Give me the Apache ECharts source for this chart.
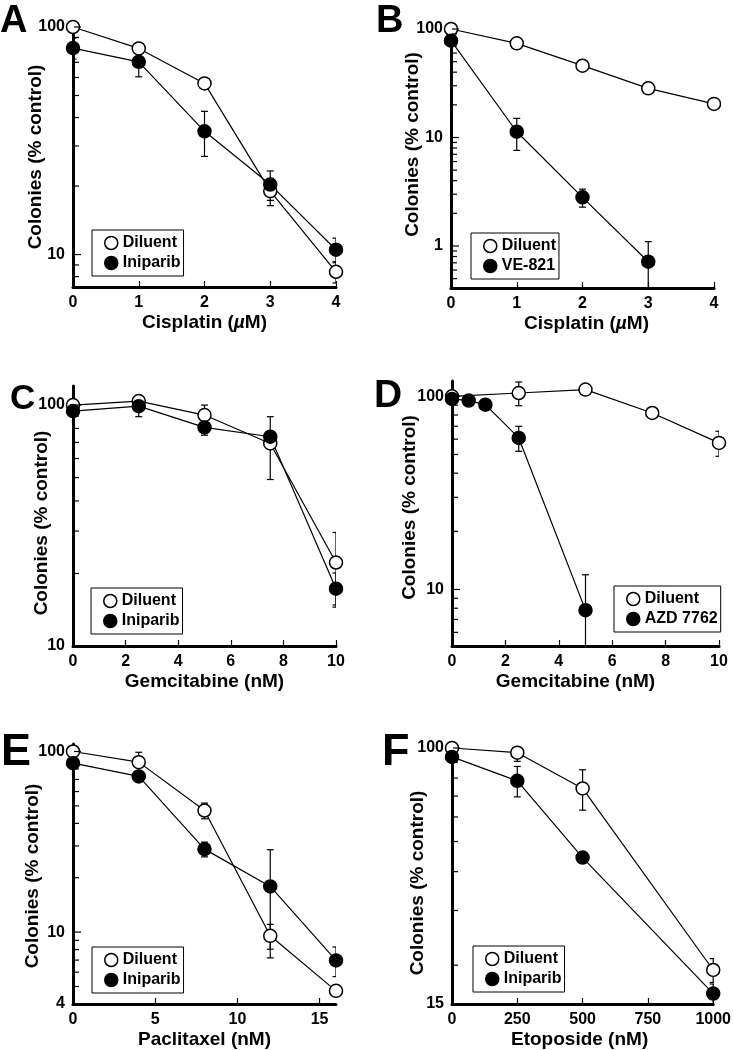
<!DOCTYPE html>
<html><head><meta charset="utf-8">
<script src="https://cdn.jsdelivr.net/npm/echarts@6/dist/echarts.min.js"></script>
<style>html,body{margin:0;padding:0;background:#fff}#c{width:734px;height:1050px}</style>
</head><body><div id="c"></div>
<script>
// ---------- Panel A : Cisplatin ± Iniparib ----------
const aX = [0, 1, 2, 3, 4];
const aDiluent = [100, 80.5, 56.5, 19.0, 8.4];
const aDiluentSD = [0, 0, 0, 2.6, 0.9];
const aIniparib = [80.8, 70.3, 34.8, 20.3, 10.5];
const aIniparibSD = [8.5, 9.9, 7.8, 3.0, 1.3];
const aYLabels = [10, 100];
const aYMinor = [8, 9, 20, 30, 40, 50, 60, 70, 80, 90];

// ---------- Panel B : Cisplatin ± VE-821 ----------
const bX = [0, 1, 2, 3, 4];
const bDiluent = [100, 73.8, 45.9, 28.4, 20.4];
const bDiluentSD = [0, 0, 0, 0, 0];
const bVEX = [0, 1, 2, 3];
const bVE821 = [78, 11.3, 2.81, 0.716];
const bVE821SD = [0, 3.7, 0.53, 0.38];
const bYLabels = [1, 10, 100];
const bYMinor = [0.5, 0.6, 0.7, 0.8, 0.9, 2, 3, 4, 5, 6, 7, 8, 9, 20, 30, 40, 50, 60, 70, 80, 90];

// ---------- Panel C : Gemcitabine ± Iniparib ----------
const cX = [0, 2.5, 5, 7.5, 10];
const cDiluent = [100, 103.9, 90.9, 69.3, 22.2];
const cDiluentSD = [0, 0, 9.1, 20.2, 7.4];
const cIniparib = [94.4, 99, 80.8, 73.9, 17.3];
const cIniparibSD = [0, 9.5, 5.8, 0, 2.8];
const cYLabels = [10, 100];
const cYMinor = [20, 30, 40, 50, 60, 70, 80, 90];

// ---------- Panel D : Gemcitabine ± AZD 7762 ----------
const dX = [0, 2.5, 5, 7.5, 10];
const dDiluent = [100, 104, 108.3, 82, 57.4];
const dDiluentSD = [0, 14.6, 5, 0, 8.5];
const dAZDX = [0, 0.625, 1.25, 2.5, 5];
const dAZD = [96.9, 95, 90.5, 60.9, 7.82];
const dAZDSD = [0, 0, 0, 9, 4.1];
const dYLabels = [10, 100];
const dYMinor = [6, 7, 8, 9, 20, 30, 40, 50, 60, 70, 80, 90];

// ---------- Panel E : Paclitaxel ± Iniparib ----------
const eX = [0, 4, 8, 12, 16];
const eDiluent = [100, 87.3, 47.1, 9.54, 4.73];
const eDiluentSD = [0, 11.7, 4.7, 1.5, 0];
const eIniparib = [86.2, 72.8, 28.8, 17.9, 6.97];
const eIniparibSD = [0, 0, 2.7, 10.7, 1.3];
const eXLabels = [0, 5, 10, 15];
const eYLabels = [4, 10, 100];
const eYMinor = [5, 6, 7, 8, 9, 20, 30, 40, 50, 60, 70, 80, 90];

// ---------- Panel F : Etoposide ± Iniparib ----------
const fX = [0, 250, 500, 1000];
const fDiluent = [100, 96.6, 74.1, 19.3];
const fDiluentSD = [0, 6, 11, 1.7];
const fIniparib = [93.6, 78.4, 44.4, 16.2];
const fIniparibSD = [0, 8.8, 1.6, 1.2];
const fYLabels = [15, 100];
const fYMinor = [20, 30, 40, 50, 60, 70, 80, 90];

const FONT = "'Liberation Sans', Arial, Helvetica, sans-serif";
const Y_NAME = 'Colonies (% control)';

const panels = [
  {letter:'A', lx:0, ly:23.5, lsize:38,
   grid:{left:73, top:27, width:263, height:260},
   x:{min:0, max:4, interval:1}, y:{min:7.2, max:100}, yLabels:aYLabels, yMinor:aYMinor,
   xName:'Cisplatin ({i|µ}M)', yGap:28, yShift:0, xShift:0,
   legend:{left:92, top:230},
   series:[{name:'Diluent', x:aX, y:aDiluent, sd:aDiluentSD, open:true},
           {name:'Iniparib', x:aX, y:aIniparib, sd:aIniparibSD, open:false}]},
  {letter:'B', lx:376, ly:23.5, lsize:38,
   grid:{left:451, top:29, width:263, height:259},
   x:{min:0, max:4, interval:1}, y:{min:0.41, max:100}, yLabels:bYLabels, yMinor:bYMinor,
   xName:'Cisplatin ({i|µ}M)', yGap:29, yShift:14, xShift:4,
   legend:{left:471, top:233},
   series:[{name:'Diluent', x:bX, y:bDiluent, sd:bDiluentSD, open:true},
           {name:'VE-821', x:bVEX, y:bVE821, sd:bVE821SD, open:false}]},
  {letter:'C', lx:10, ly:401, lsize:35,
   grid:{left:73, top:386, width:263, height:260},
   x:{min:0, max:10, interval:2}, y:{min:10, max:120}, yLabels:cYLabels, yMinor:cYMinor,
   xName:'Gemcitabine (nM)', yGap:22, yShift:-7, xShift:0,
   legend:{left:91, top:588},
   series:[{name:'Diluent', x:cX, y:cDiluent, sd:cDiluentSD, open:true},
           {name:'Iniparib', x:cX, y:cIniparib, sd:cIniparibSD, open:false}]},
  {letter:'D', lx:374, ly:398, lsize:39,
   grid:{left:452, top:381, width:267, height:265},
   x:{min:0, max:10, interval:2}, y:{min:5.1, max:120}, yLabels:dYLabels, yMinor:dYMinor,
   xName:'Gemcitabine (nM)', yGap:33, yShift:6, xShift:-10,
   legend:{left:614, top:586},
   series:[{name:'Diluent', x:dX, y:dDiluent, sd:dDiluentSD, open:true},
           {name:'AZD 7762', x:dAZDX, y:dAZD, sd:dAZDSD, open:false}]},
  {letter:'E', lx:1, ly:755, lsize:45,
   grid:{left:73, top:744, width:263, height:261},
   x:{min:0, max:16, interval:5, labels:eXLabels}, y:{min:4, max:110}, yLabels:eYLabels, yMinor:eYMinor,
   xName:'Paclitaxel (nM)', yGap:31, yShift:-2, xShift:0,
   legend:{left:92, top:947},
   series:[{name:'Diluent', x:eX, y:eDiluent, sd:eDiluentSD, open:true},
           {name:'Iniparib', x:eX, y:eIniparib, sd:eIniparibSD, open:false}]},
  {letter:'F', lx:382, ly:755, lsize:45,
   grid:{left:452, top:748, width:262, height:257},
   x:{min:0, max:1000, interval:250}, y:{min:15, max:100}, yLabels:fYLabels, yMinor:fYMinor,
   xName:'Etoposide (nM)', yGap:25, yShift:-7, xShift:-3,
   legend:{left:473, top:946},
   series:[{name:'Diluent', x:fX, y:fDiluent, sd:fDiluentSD, open:true},
           {name:'Iniparib', x:fX, y:fIniparib, sd:fIniparibSD, open:false}]}
];

function renderErr(params, api) {
  const x = api.value(0), lo = api.value(1), hi = api.value(2);
  const p1 = api.coord([x, lo]);
  const p2 = api.coord([x, hi]);
  const w = 3.5;
  const st = {stroke:'#000', lineWidth:1.2};
  return {type:'group', children:[
    {type:'line', shape:{x1:p1[0], y1:p1[1], x2:p2[0], y2:p2[1]}, style:st},
    {type:'line', shape:{x1:p1[0]-w, y1:p1[1], x2:p1[0]+w, y2:p1[1]}, style:st},
    {type:'line', shape:{x1:p2[0]-w, y1:p2[1], x2:p2[0]+w, y2:p2[1]}, style:st}
  ]};
}

// y-axis tick marks (inside), drawn from the tick value arrays via the axis scale
function makeTickRenderer(len) {
  return function (params, api) {
    const p = api.coord([api.value(0), api.value(1)]);
    return {type:'line', shape:{x1:p[0] + 1, y1:p[1], x2:p[0] + 1 + len, y2:p[1]},
            style:{stroke:'#000', lineWidth:1.2}};
  };
}

function shiftPad(s) {
  return s >= 0 ? [0, 0, 0, 2 * s] : [0, -2 * s, 0, 0];
}

const option = {
  backgroundColor:'#fff', animation:false,
  textStyle:{fontFamily:FONT},
  grid:[], xAxis:[], yAxis:[], series:[], legend:[], graphic:[]
};

panels.forEach((p, i) => {
  option.grid.push(p.grid);
  const xa = {
    type:'value', gridIndex:i, min:p.x.min, max:p.x.max, interval:p.x.interval,
    splitLine:{show:false},
    axisLine:{show:true, lineStyle:{color:'#000', width:3}},
    axisTick:{show:true, inside:true, length:6, lineStyle:{color:'#000', width:1.2}},
    axisLabel:{color:'#000', fontSize:16, fontWeight:'bold', fontFamily:FONT, margin:8,
      formatter:v => String(v)},
    name:p.xName, nameLocation:'middle', nameGap:26, nameMoveOverlap:false,
    nameTextStyle:{color:'#000', fontSize:19, fontWeight:'bold', fontFamily:FONT, verticalAlign:'top',
      padding:shiftPad(p.xShift),
      rich:{i:{fontStyle:'italic', fontSize:19, fontWeight:'bold', fontFamily:FONT, color:'#000'}}}
  };
  if (p.x.labels) {
    xa.axisLabel.customValues = p.x.labels;
    xa.axisTick.customValues = p.x.labels;
  }
  option.xAxis.push(xa);
  option.yAxis.push({
    type:'log', logBase:10, gridIndex:i, min:p.y.min, max:p.y.max, position:'left',
    splitLine:{show:false},
    axisLine:{show:true, lineStyle:{color:'#000', width:3}},
    axisTick:{show:false},
    axisLabel:{color:'#000', fontSize:16, fontWeight:'bold', fontFamily:FONT, margin:8, customValues:p.yLabels,
      formatter:v => String(v)},
    name:Y_NAME, nameLocation:'middle', nameGap:p.yGap, nameMoveOverlap:false,
    nameTextStyle:{color:'#000', fontSize:19, fontWeight:'bold', fontFamily:FONT, padding:shiftPad(p.yShift)}
  });
  // y tick marks: major and minor
  option.series.push({
    type:'custom', name:'major ticks ' + p.letter, xAxisIndex:i, yAxisIndex:i, clip:false, z:5, silent:true,
    renderItem:makeTickRenderer(7), data:p.yLabels.map(v => [p.x.min, v]), encode:{x:0, y:1}
  });
  option.series.push({
    type:'custom', name:'minor ticks ' + p.letter, xAxisIndex:i, yAxisIndex:i, clip:false, z:5, silent:true,
    renderItem:makeTickRenderer(5), data:p.yMinor.map(v => [p.x.min, v]), encode:{x:0, y:1}
  });
  p.series.forEach(s => {
    const err = [];
    s.x.forEach((xv, k) => { if (s.sd[k] > 0) err.push([xv, s.y[k] - s.sd[k], s.y[k] + s.sd[k]]); });
    option.series.push({
      type:'custom', name:s.name + ' SD', xAxisIndex:i, yAxisIndex:i, clip:true, z:2,
      renderItem:renderErr, data:err, encode:{x:0, y:[1,2]}, silent:true
    });
  });
  p.series.forEach(s => {
    option.series.push({
      type:'line', name:s.name, xAxisIndex:i, yAxisIndex:i, clip:false, z:3,
      data:s.x.map((xv, k) => [xv, s.y[k]]),
      symbol:'circle', symbolSize:13, showAllSymbol:true,
      lineStyle:{color:'#000', width:1.2},
      itemStyle:{color:s.open ? '#fff' : '#000', borderColor:'#000', borderWidth:1.5, opacity:1},
      emphasis:{disabled:true}
    });
  });
  option.legend.push({
    orient:'vertical', left:p.legend.left, top:p.legend.top,
    data:p.series.map(s => s.name), icon:'circle',
    itemWidth:13, itemHeight:13, itemGap:4, padding:[5,3,5,12],
    borderColor:'#000', borderWidth:1, selectedMode:false,
    itemStyle:{borderWidth:1.5},
    textStyle:{color:'#000', fontSize:16, fontWeight:'bold', fontFamily:FONT}
  });
  option.graphic.push({
    type:'text', left:p.lx, top:p.ly - p.lsize * 0.55, silent:true,
    style:{text:p.letter, font:'bold ' + p.lsize + 'px ' + FONT, fill:'#000'}
  });
});

const chart = echarts.init(document.getElementById('c'), null, {renderer:'canvas'});
chart.setOption(option);
</script>
</body></html>
